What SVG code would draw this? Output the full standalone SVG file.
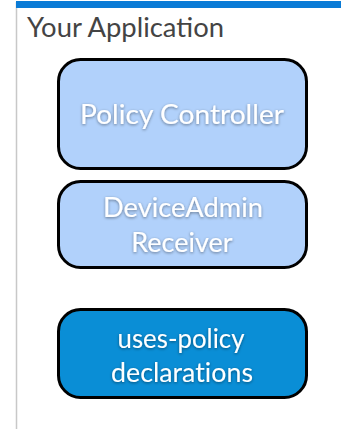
<svg xmlns="http://www.w3.org/2000/svg" width="341" height="429" viewBox="0 0 341 429">
  <defs>
    <filter id="txtShadow" x="-10%" y="-30%" width="120%" height="160%">
      <feDropShadow dx="0" dy="1" stdDeviation="1.5" flood-color="#000" flood-opacity="0.45"/>
    </filter>
  </defs>
  <style>
    .box { stroke: #000; stroke-width: 3; }
    .light { fill: #b1d1fb; }
    .dark { fill: #0a8ed6; }
    .label { font-family: Lato, "Open Sans", sans-serif; font-size: 27px; fill: #fff; text-anchor: middle; font-variant-ligatures: none; filter: url(#txtShadow); }
    .title { font-family: Lato, "Open Sans", sans-serif; font-size: 27px; fill: #444; }
  </style>
  <rect width="341" height="429" fill="#fff"/>
  <!-- container frame -->
  <g id="container">
    <line x1="16.5" y1="2" x2="16.5" y2="429" stroke="#c8c8c8" stroke-width="1.5"/>
    <rect x="16" y="1" width="325" height="7" fill="#0a7bd6"/>
    <text class="title" x="27" y="37" textLength="197" lengthAdjust="spacingAndGlyphs">Your Application</text>
  </g>
  <g id="connectors"></g>
  <g id="policy-controller">
    <rect class="box light" x="58.5" y="59.5" width="248" height="109" rx="22"/>
    <text class="label" x="182" y="124" textLength="204" lengthAdjust="spacingAndGlyphs">Policy Controller</text>
  </g>
  <g id="device-admin-receiver">
    <rect class="box light" x="58.5" y="181.5" width="248" height="86" rx="22"/>
    <text class="label" x="183" y="217" textLength="160" lengthAdjust="spacingAndGlyphs">DeviceAdmin</text>
    <text class="label" x="182" y="252">Receiver</text>
  </g>
  <g id="uses-policy">
    <rect class="box dark" x="58.5" y="309.5" width="248" height="88" rx="22"/>
    <text class="label" x="181" y="348" textLength="127" lengthAdjust="spacingAndGlyphs">uses-policy</text>
    <text class="label" x="182" y="382" textLength="142" lengthAdjust="spacingAndGlyphs">declarations</text>
  </g>
</svg>
